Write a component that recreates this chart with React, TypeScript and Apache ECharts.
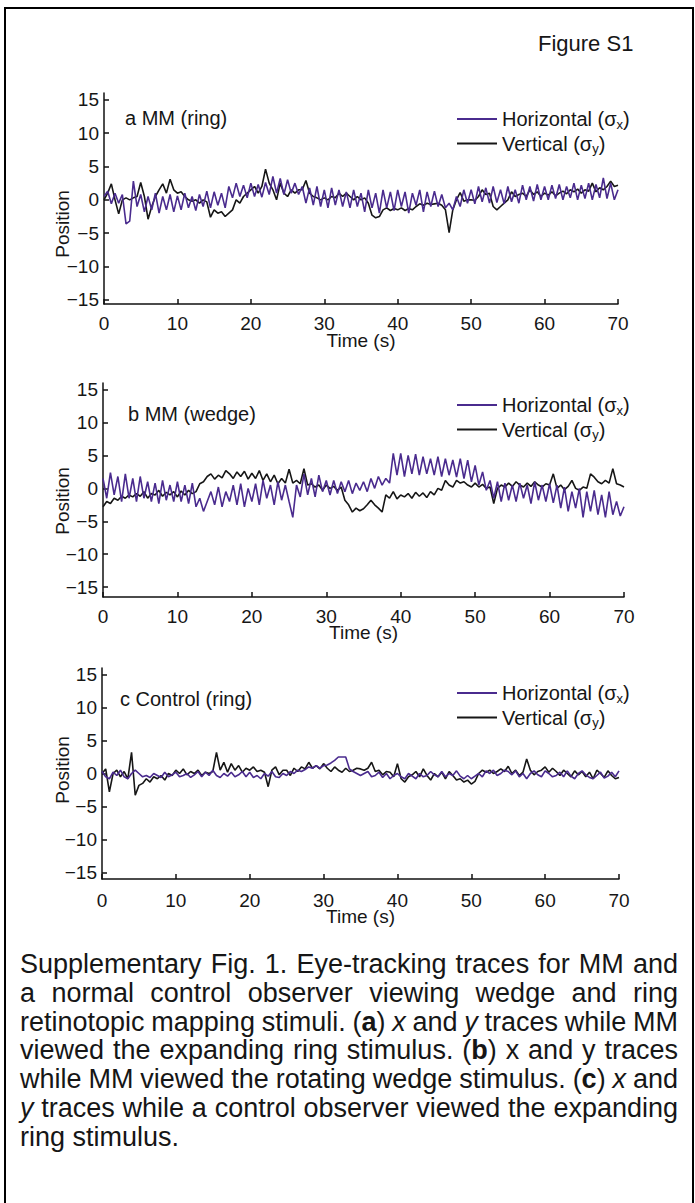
import React, { useEffect, useRef } from 'react';
import * as echarts from 'echarts';

const FONT = '"Liberation Sans", Arial, Helvetica, sans-serif';
const PURPLE = '#4a2b8e';
const BLACK = '#161616';
const TEXT = '#161616';

// sampling times (s), every 0.5 s from 0 to 70
const TIME = Array.from({ length: 141 }, (_, i) => i * 0.5);
const Y_TICKS = [-15, -10, -5, 0, 5, 10, 15];
const SERIES_NAMES = ['Horizontal (σx)', 'Vertical (σy)'];
const PANEL_TITLES = ['a MM (ring)', 'b MM (wedge)', 'c Control (ring)'];
const FIGURE_TITLE = 'Figure S1';
const Y_NAME = 'Position';
const X_NAME = 'Time (s)';
const CAPTION_LINES = [
  'Supplementary Fig. 1. Eye-tracking traces for MM and',
  'a normal control observer viewing wedge and ring',
  'retinotopic mapping stimuli. ({b|a}) {i|x} and {i|y} traces while MM',
  'viewed the expanding ring stimulus. ({b|b}) x and y traces',
  'while MM viewed the rotating wedge stimulus. ({b|c}) {i|x} and',
  '{i|y} traces while a control observer viewed the expanding',
  'ring stimulus.',
];

// a MM (ring)
const A_H = [
  0.5, 1.3, -0.6, 1, -0.5, 0.8, -3.6, -3.2, 2.8, -1,
  0.8, -1.8, 0.5, -1.5, 1, -2, 0.5, -1.5, 0.8, -1.8,
  0.6, -1.5, 1, -1.2, 0.5, -1.6, 0.8, -1, 1.3, -1.2,
  1.2, -0.8, 1, -1.2, 2, 0.3, 2.5, 0.5, 2.2, 0.3,
  2.5, 0.5, 2.3, 0.4, 2.6, 0.8, 3.5, 1, 3.2, 0.8,
  3, 1, 2.5, 0.8, 2, -0.5, 1.8, -0.8, 2, -1,
  1.5, -1.2, 1.8, -0.8, 1.5, -1, 1.2, -1.2, 1.5, -1,
  1, -1.8, 1.5, -1.2, 1, -2, 1.5, -1.2, 1.2, -1.6,
  1.5, -1, 1.2, -2, 1, -0.8, 1.5, -1.8, 1.2, -1,
  1.3, -1, 0.8, -1.2, -0.5, -1.5, 0.5, -1, 1.5, -0.5,
  1.5, -0.6, 2, -0.3, 1.8, -0.5, 2, -0.4, 1.5, -0.6,
  2, -0.3, 1.5, -0.5, 2.2, 0, 2, -0.2, 2.3, 0,
  2, 0, 2.2, 0.2, 2.3, 0, 2, 0.3, 2.5, 0,
  2.2, 0.2, 2.5, 0, 2.3, 0.3, 3.3, 0.2, 2.5, 0,
  1.5,
];
const A_V = [
  0, 1, 2.4, 0, -2.1, 0, 0.3, 0, 0.3, 0.5,
  2.6, 0.5, -2.9, -1, 0.5, 1.5, 2.4, 1, 3.1, 1.5,
  1, 1.2, 0.5, 0, -0.2, 0, -0.5, 0, -0.3, -2.6,
  -1.5, -2, -1.8, -2.5, -2, -1.5, 0, -0.5, 0.5, 1,
  1.5, 2, 1, 2, 4.6, 2.5, 1.5, 0, 2.5, 1,
  0.5, 1.5, 1, 1.5, 1.5, 2.9, 1, 0.5, 0.3, 0,
  0.3, 0, 0.5, 0.3, 1, 0.5, 1, 0.5, 0, 0.5,
  0, 0.3, -0.5, -2.3, -2.7, -2.5, -1.5, -1.2, -1.6, -1.3,
  -1.5, -1.2, -1.6, -1.3, -1.5, -1, -0.6, -0.8, -0.5, -0.7,
  -0.6, -0.5, -0.8, -1.5, -4.9, -1.5, 0, 1.1, -0.2, 0,
  0, -0.1, 0.5, 1.5, 0.8, 1, -1, -1.5, -1, -0.5,
  0, 1.2, 0.5, 0.8, 1, 0.5, 1.5, 0.8, 1.2, 0.5,
  1, 0.7, 1.2, 0.6, 1, 1.3, 0.9, 1.5, 1.2, 1.6,
  1, 1.5, 1.3, 2.5, 1.2, 1.8, 1.5, 2, 2.8, 2,
  2.2,
];

// b MM (wedge)
const B_H = [
  1.5, -1.5, 2.4, -1, 1.8, -2, 2.2, -1.5, 1.5, -2,
  1.8, -1.5, 1, -2, 0.8, -2.3, 1.2, -1.8, 0.5, -2,
  1, -2, 0.5, -2.3, 0.8, -2.8, -1.5, -3.5, -2, -0.5,
  -2.5, 0.2, -2.8, -0.5, -2, 0.5, -2.5, 0.7, -2.8, 0,
  -2, 0.7, -2.5, 1.2, -1.5, 0.5, -2.5, 1, -1.8, 0.5,
  -2, -4.4, 0.5, -1.3, 2.2, -1, 1.5, -1.3, 2, -0.5,
  1.2, -1, 1.2, -0.8, 1, -0.5, 1.2, -0.8, 0.8, -0.3,
  1, -0.5, 1.5, 0, 1.8, 0.5, 1.5, 0.8, 5.3, 2,
  5.3, 1.8, 5, 2.2, 5.2, 2, 4.8, 2.2, 4.5, 2,
  4.8, 1.8, 4.5, 2, 4.3, 1.7, 4.5, 1.5, 4.3, 1,
  3.5, 0.5, 2.5, -0.3, 1.2, -1.5, 1, -2, 0.8, -1.8,
  0.5, -2, 0.8, -1.5, 0.5, -2.3, 1, -1.8, 0.5, -2,
  0.7, -2.2, 0.5, -3, 0.2, -3.5, -0.5, -3, 0, -4.4,
  -0.5, -3.5, -0.3, -4, -1, -4.4, -0.5, -4, -2, -4.2,
  -2.8,
];
const B_V = [
  -2.8, -2, -2.3, -1.5, -1.8, -1.2, -1.5, -1, -1.3, -0.8,
  -1.2, -0.5, -1.5, -0.8, -1, -0.3, -1.2, -0.6, -1, -0.5,
  -1.3, -0.4, -1, -0.3, -0.8, -0.5, 0.7, 1, 1.8, 2.2,
  1.4, 2, 1.6, 2.7, 2.2, 1.5, 2.5, 1.8, 2.6, 1.4,
  2.3, 1.5, 2.7, 1.2, 2.2, 1, 2, 0.7, 1.5, 0.8,
  2.9, 0.8, 1.2, 0.7, 3, 0.5, 0.7, 0.2, 0.5, -0.3,
  0.5, 0, 0.3, -0.3, 0.2, -1.8, -2.5, -3.6, -3, -3.4,
  -3.1, -2.5, -1.8, -2.5, -3, -3.6, -1, -1.5, -0.5, -1.6,
  -1, -1.3, -0.8, -1.5, -0.6, -1.2, -0.7, -1.4, -0.5, -1,
  0, -0.3, 1.2, 0.5, 0.2, 1.2, 0.8, 1, 0.5, 0.2,
  0.8, 0.2, 0.6, 0, 0.2, -2.3, 0, 0.5, 0.2, 0.8,
  0.3, 1, 0.5, 0.2, 0.8, 0.3, 1, 0.5, 0.2, 0.7,
  0.5, 2.2, 0, 0.5, -0.2, 0.3, 1.2, 0, -0.3, 0.2,
  0, 2.2, 1.7, 1, 0.7, 1.2, 0.8, 3, 0.7, 0.5,
  0.2,
];

// c Control (ring)
const C_H = [
  0.3, -0.5, -0.8, 0.2, -0.3, 0.5, -0.5, -0.8, 0, 0.5,
  0, -0.5, -0.3, -0.6, 0, -0.3, -0.6, 0.2, -0.5, -0.2,
  0.2, -0.5, -0.3, 0, -0.6, -0.2, 0.3, -0.5, 0.2, -0.3,
  0.5, -0.3, -0.6, 0, -0.4, 0.2, -0.5, -0.2, 0.3, -0.5,
  0.2, -0.6, -0.3, -0.8, 0, -0.4, 0.3, -0.5, -0.6, 0,
  -0.3, 0.3, 0, 0.5, 0.3, 0.6, 1, 0.8, 1.2, 0.8,
  1.2, 1.3, 1.6, 2, 2.5, 2.5, 2.5, 0.7, 0.3, 0,
  -0.3, 0, 0.3, -0.5, -0.3, 0.2, -0.6, 0, -0.8, -0.3,
  0, -0.5, -0.8, 0, -0.4, -0.8, 0, -0.5, -0.3, 0.3,
  -0.2, -0.5, 0.3, -0.5, 0, -0.3, 0.4, -0.4, -0.8, -0.3,
  -0.8, -0.4, 0, -0.5, 0.4, 0, 0.5, -0.3, 0, 0.5,
  0.3, -0.2, 0.4, -0.5, 0, -0.8, 0, 0.4, -0.2, -0.5,
  0.4, 0, -0.5, -0.3, 0.2, -0.5, 0.4, -0.4, -0.8, 0,
  0.4, -0.2, -0.6, -0.8, -0.3, 0.2, -0.7, -0.4, 0.2, -0.5,
  0.4,
];
const C_V = [
  0, 0.7, -2.8, 0, 0.5, -0.5, 0.3, -0.8, 3.2, -3.3,
  -1.8, -1.5, -0.8, -1.3, -0.5, -0.8, -0.3, -1, 0, -0.3,
  0.5, 0, 0.7, -0.2, 0.3, 0, 0.5, -0.3, 0.2, 0,
  0.3, 3.2, 0.5, 1.7, 0.2, 1.5, 0.5, 1.2, 0.2, 0.8,
  0.5, 1, 0.3, 0.5, 0.2, -2, 0.5, 1, -0.2, 0.5,
  0.5, -0.3, 0.8, 0.3, 1, 0.7, 1.7, 0.8, 1.2, 0.7,
  1.5, 0.8, 0.3, 1, 0.5, 0.2, 0.8, 0.3, 0.5, 0.8,
  0.7, 0.5, 0.8, 1.7, 0.3, 0.5, -0.2, 0.3, 0.2, -0.5,
  1.5, -0.8, -1.3, -0.5, -0.2, 0.3, -0.5, 0.7, -0.3, -1,
  0, -0.5, 0.2, -0.8, 0.3, -0.3, -1, -0.8, -1.3, -1,
  -1.6, -1.2, 0, 0.5, 0.2, 0.5, 0, 0.3, 0.7, 0.3,
  1.1, 0, 0.5, -0.3, 0.2, 2.2, 0.5, -0.2, 0.3, 0.5,
  1, 0.2, 0.8, 0.3, -0.3, 0.5, 0, -0.5, 0.4, -0.2,
  0.3, -0.5, 0.2, -0.8, 0.5, 0, -0.6, 0.4, -0.3, -0.8,
  -0.6,
];

const PANEL_DATA = [
  { h: A_H, v: A_V },
  { h: B_H, v: B_V },
  { h: C_H, v: C_V },
];

// layout (pixels) for each panel
const LAYOUT = [
  { left: 104, top: 93, width: 514, height: 211, yMin: -15.6, yMax: 16, nameGap: 27, labelMargin: 10, legendTop: 104, titleX: 125, titleY: 118, posY: 224 },
  { left: 103, top: 383, width: 521, height: 214, yMin: -16.5, yMax: 16, nameGap: 26, labelMargin: 10, legendTop: 390, titleX: 128, titleY: 414, posY: 501 },
  { left: 102, top: 668, width: 517, height: 211, yMin: -16, yMax: 16, nameGap: 28, labelMargin: 12, legendTop: 678, titleX: 120, titleY: 699, posY: 770 },
];

const CAPTION_LEFT = 20;
const CAPTION_RIGHT = 678;
const CAPTION_TOP = 964;
const CAPTION_PITCH = 28.8;
const CAPTION_SIZE = 27;

function buildCaption(): any[] {
  const canvas = document.createElement('canvas');
  const ctx = canvas.getContext('2d') as CanvasRenderingContext2D;
  const fontFor = (k: string) =>
    `${k === 'i' ? 'italic ' : ''}${k === 'b' ? 'bold ' : ''}${CAPTION_SIZE}px ${FONT}`;
  const measure = (word: string) => {
    const re = /\{(\w)\|([^}]*)\}/g;
    let w = 0;
    let last = 0;
    let m: RegExpExecArray | null;
    while ((m = re.exec(word))) {
      ctx.font = fontFor('');
      w += ctx.measureText(word.slice(last, m.index)).width;
      ctx.font = fontFor(m[1]);
      w += ctx.measureText(m[2]).width;
      last = re.lastIndex;
    }
    ctx.font = fontFor('');
    w += ctx.measureText(word.slice(last)).width;
    return w;
  };
  ctx.font = fontFor('');
  const spaceW = ctx.measureText(' ').width;
  const rich = {
    b: { fontWeight: 'bold', fontSize: CAPTION_SIZE, fontFamily: FONT, fill: TEXT },
    i: { fontStyle: 'italic', fontSize: CAPTION_SIZE, fontFamily: FONT, fill: TEXT },
  };
  const els: any[] = [];
  CAPTION_LINES.forEach((line, li) => {
    const words = line.split(' ');
    const widths = words.map(measure);
    const total = widths.reduce((a, b) => a + b, 0);
    const isLast = li === CAPTION_LINES.length - 1;
    const gap = isLast || words.length < 2 ? spaceW : (CAPTION_RIGHT - CAPTION_LEFT - total) / (words.length - 1);
    let x = CAPTION_LEFT;
    const y = CAPTION_TOP + li * CAPTION_PITCH;
    words.forEach((w, wi) => {
      els.push({
        type: 'text',
        x,
        y,
        silent: true,
        style: {
          text: w,
          fontSize: CAPTION_SIZE,
          fontFamily: FONT,
          fill: TEXT,
          align: 'left',
          verticalAlign: 'middle',
          rich,
        },
      });
      x += widths[wi] + gap;
    });
  });
  return els;
}

export default function App() {
  const ref = useRef<HTMLDivElement>(null);
  useEffect(() => {
    if (!ref.current) return;
    const chart = echarts.init(ref.current, undefined, { renderer: 'svg' });
    const axisLine = { color: '#111', width: 1.5 };
    const labelStyle = { fontSize: 19, fontFamily: FONT, color: TEXT };

    const grid = LAYOUT.map((l) => ({ left: l.left, top: l.top, width: l.width, height: l.height, containLabel: false }));
    const xAxis = LAYOUT.map((l, i) => ({
      type: 'value',
      gridIndex: i,
      min: 0,
      max: 70,
      interval: 10,
      name: X_NAME,
      nameLocation: 'middle',
      nameGap: l.nameGap,
      nameMoveOverlap: false,
      nameTextStyle: { ...labelStyle, verticalAlign: 'top' },
      axisLine: { show: true, onZero: false, lineStyle: axisLine },
      axisTick: { show: true, inside: true, length: 5, lineStyle: axisLine },
      axisLabel: { ...labelStyle, margin: l.labelMargin },
      splitLine: { show: false },
    }));
    const yAxis = LAYOUT.map((l, i) => ({
      type: 'value',
      gridIndex: i,
      min: l.yMin,
      max: l.yMax,
      axisLine: { show: true, onZero: false, lineStyle: axisLine },
      axisTick: { show: true, inside: true, length: 5, lineStyle: axisLine, customValues: Y_TICKS },
      axisLabel: {
        ...labelStyle,
        margin: 5,
        customValues: Y_TICKS,
        formatter: (v: number) => (v < 0 ? '\u2212' + Math.abs(v) : String(v)),
      },
      splitLine: { show: false },
    }));
    const series: any[] = [];
    PANEL_DATA.forEach((p, i) => {
      series.push({
        type: 'line',
        name: SERIES_NAMES[1],
        xAxisIndex: i,
        yAxisIndex: i,
        data: TIME.map((t, k) => [t, p.v[k]]),
        showSymbol: false,
        symbol: 'none',
        color: BLACK,
        lineStyle: { color: BLACK, width: 1.6 },
        z: 2,
      });
      series.push({
        type: 'line',
        name: SERIES_NAMES[0],
        xAxisIndex: i,
        yAxisIndex: i,
        data: TIME.map((t, k) => [t, p.h[k]]),
        showSymbol: false,
        symbol: 'none',
        color: PURPLE,
        lineStyle: { color: PURPLE, width: 1.6 },
        z: 3,
      });
    });
    const legend = LAYOUT.map((l) => ({
      data: SERIES_NAMES,
      orient: 'vertical',
      left: 452,
      top: l.legendTop,
      icon: 'rect',
      itemWidth: 40,
      itemHeight: 2,
      itemGap: 3,
      itemTextGap: 15,
      selectedMode: false,
      textStyle: {
        fontSize: 20,
        fontFamily: FONT,
        color: TEXT,
        rich: { s: { fontSize: 13, fontFamily: FONT, color: TEXT, padding: [10, 0, 0, 0] } },
      },
      formatter: (name: string) => name.replace(/σ([xy])/, 'σ{s|$1}'),
    }));

    const graphic: any[] = [
      {
        type: 'rect',
        shape: { x: 5, y: 8, width: 688, height: 1220 },
        style: { fill: 'none', stroke: '#000', lineWidth: 2 },
        silent: true,
      },
      {
        type: 'text',
        x: 538,
        y: 43,
        style: { text: FIGURE_TITLE, fontSize: 22, fontFamily: FONT, fill: TEXT, align: 'left', verticalAlign: 'middle' },
      },
    ];
    LAYOUT.forEach((l, i) => {
      graphic.push({
        type: 'text',
        x: l.titleX,
        y: l.titleY,
        style: { text: PANEL_TITLES[i], fontSize: 20, fontFamily: FONT, fill: TEXT, align: 'left', verticalAlign: 'middle' },
      });
      graphic.push({
        type: 'text',
        x: 62,
        y: l.posY,
        rotation: Math.PI / 2,
        style: { text: Y_NAME, fontSize: 19, fontFamily: FONT, fill: TEXT, align: 'center', verticalAlign: 'middle' },
      });
    });
    graphic.push(...buildCaption());

    chart.setOption({
      animation: false,
      backgroundColor: '#ffffff',
      grid,
      xAxis,
      yAxis,
      legend,
      series,
      graphic,
    });
    return () => chart.dispose();
  }, []);
  return (
    <div
      ref={ref}
      style={{ position: 'fixed', left: 0, top: 0, width: 695, height: 1203, background: '#fff' }}
    />
  );
}
